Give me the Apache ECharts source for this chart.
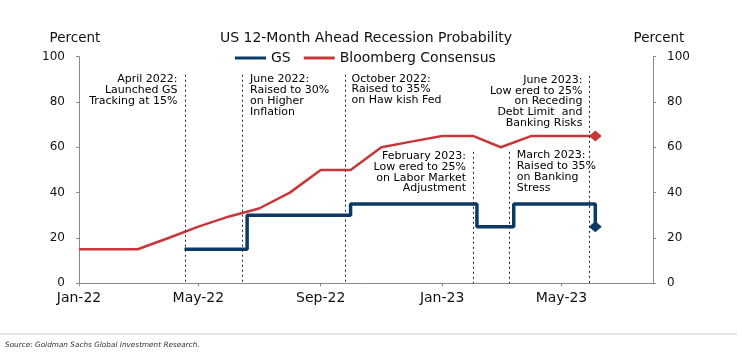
<!DOCTYPE html>
<html>
<head>
<meta charset="utf-8">
<script src="https://cdn.jsdelivr.net/npm/echarts@6/dist/echarts.min.js"></script>
<style>
html,body{margin:0;padding:0;background:#fff;}
#chart{width:742px;height:352px;}
</style>
</head>
<body>
<div id="chart"></div>
<script>
// ---- Data ----
const redDates = ['2022-01-01','2022-02-01','2022-03-01','2022-04-01','2022-05-01','2022-06-01','2022-07-01','2022-08-01','2022-09-01','2022-10-01','2022-11-01','2022-12-01','2023-01-01','2023-02-01','2023-03-01','2023-04-01','2023-05-01','2023-06-04'];
const redValues = [15,15,15,20,25,29.5,33,40,50,50,60,62.5,65,65,60,65,65,65];

const gsDates = ['2022-04-17','2022-06-19','2022-10-01','2023-02-05','2023-03-14','2023-06-04'];
const gsValues = [15,30,35,25,35,25];

const tickDates = ['2022-01-01','2022-05-01','2022-09-01','2023-01-01','2023-05-01'];
const tickLabels = ['Jan-22','May-22','Sep-22','Jan-23','May-23'];
const yTicks = [0,20,40,60,80,100];

const eventDates = ['2022-04-18','2022-06-14','2022-09-26','2023-02-01','2023-03-09','2023-05-29'];
const eventTops = [92, 92, 92, 58, 58, 91.5];

const noteDates = ['2022-04-10','2022-06-22','2022-10-02','2023-01-25','2023-03-17','2023-05-22'];
const noteTops = [92.34, 92.34, 92.65, 58.5, 58.8, 92.1];
const noteAlign = ['right','left','left','right','left','right'];
const noteTexts = [
  'April 2022:\nLaunched GS\nTracking at 15%',
  'June 2022:\nRaised to 30%\non Higher\nInflation',
  'October 2022:\nRaised to 35%\non Haw kish Fed',
  'February 2023:\nLow ered to 25%\non Labor Market\nAdjustment',
  'March 2023:\nRaised to 35%\non Banking\nStress',
  'June 2023:\nLow ered to 25%\non Receding\nDebt Limit  and\nBanking Risks'
];

const axisMin = '2022-01-01';
const axisMax = '2023-08-01';

// ---- Helpers ----
function ts(s){ const p = s.split('-').map(Number); return Date.UTC(p[0], p[1]-1, p[2]); }

const FONT = 'DejaVu Sans';
const RED = '#C8373A';
const BLUE = '#0B3A66';
const AXIS = '#8a8a8a';
const TXT = '#111111';

const tickTs = tickDates.map(ts);
const redData = redDates.map((d,i)=>[ts(d), redValues[i]]);
const gsData = gsDates.map((d,i)=>[ts(d), gsValues[i]]);

const chart = echarts.init(document.getElementById('chart'), null, {renderer:'canvas'});

const yAxisBase = {
  type:'value', min:0, max:100, interval:20,
  axisLine:{show:true, lineStyle:{color:AXIS, width:1}},
  axisTick:{show:true, length:3, lineStyle:{color:AXIS}},
  axisLabel:{color:TXT, fontSize:12, fontFamily:FONT, margin:14},
  splitLine:{show:false}
};

const lastIdx = (arr)=>arr.length-1;

const option = {
  animation:false,
  grid:{left:79, right:89, top:56.6, bottom:68.7, containLabel:false},
  legend:{
    left:230, top:46,
    itemWidth:31, itemHeight:3, itemGap:13,
    icon:'rect',
    textStyle:{color:TXT, fontSize:14, fontFamily:FONT},
    data:['GS','Bloomberg Consensus']
  },
  xAxis:{
    type:'value', min:ts(axisMin), max:ts(axisMax),
    axisLine:{show:true, onZero:false, lineStyle:{color:AXIS, width:1}},
    axisTick:{show:true, length:3, lineStyle:{color:AXIS}, customValues:tickTs},
    axisLabel:{color:TXT, fontSize:14, fontFamily:FONT, margin:8, customValues:tickTs,
      formatter:function(v){ const i = tickTs.indexOf(v); return i>=0 ? tickLabels[i] : ''; }},
    splitLine:{show:false}
  },
  yAxis:[
    Object.assign({}, yAxisBase, {position:'left'}),
    Object.assign({}, yAxisBase, {position:'right'})
  ],
  series:[
    {
      name:'Bloomberg Consensus', type:'line', data:redData,
      color:RED,
      lineStyle:{color:RED, width:2.5},
      itemStyle:{color:RED},
      symbol:'diamond', showAllSymbol:true,
      symbolSize:function(v,p){ return p.dataIndex===lastIdx(redData) ? [13,11] : 0; },
      z:3
    },
    {
      name:'GS', type:'line', step:'end', data:gsData,
      color:BLUE,
      lineStyle:{color:BLUE, width:3.5},
      itemStyle:{color:BLUE},
      symbol:'diamond', showAllSymbol:true,
      symbolSize:function(v,p){ return p.dataIndex===lastIdx(gsData) ? [13,11] : 0; },
      z:4
    },
    {
      name:'notes', type:'scatter', silent:true, symbolSize:1,
      itemStyle:{color:'rgba(255,255,255,0)'},
      data: noteDates.map((d,i)=>({
        value:[ts(d), noteTops[i]],
        label:{show:true, position:'inside', formatter:noteTexts[i], align:noteAlign[i], verticalAlign:'top',
          fontSize:11, lineHeight:10.8, fontFamily:FONT, color:'#000', opacity:1,
          textBorderWidth:0}
      })),
      markLine:{
        silent:true, symbol:['none','none'],
        label:{show:false},
        lineStyle:{color:'#222', width:1, type:[2,3], opacity:1},
        data: eventDates.map((d,i)=>[{coord:[ts(d), eventTops[i]]},{coord:[ts(d), 0]}])
      },
      z:2
    }
  ],
  graphic:[
    {type:'text', style:{x:75, y:38, text:'Percent', fill:TXT, font:'13.5px "DejaVu Sans"', textAlign:'center', textVerticalAlign:'middle'}},
    {type:'text', style:{x:659, y:38, text:'Percent', fill:TXT, font:'13.5px "DejaVu Sans"', textAlign:'center', textVerticalAlign:'middle'}},
    {type:'text', style:{x:366, y:38, text:'US 12-Month Ahead Recession Probability', fill:TXT, font:'14px "DejaVu Sans"', textAlign:'center', textVerticalAlign:'middle'}},
    {type:'line', shape:{x1:0, y1:334, x2:737, y2:334}, style:{stroke:'#dddddd', lineWidth:1.5}},
    {type:'text', style:{x:5, y:345, text:'Source: Goldman Sachs Global Investment Research.', fill:'#333', font:'italic 7.3px "DejaVu Sans"', textAlign:'left', textVerticalAlign:'middle'}}
  ]
};
chart.setOption(option);
</script>
</body>
</html>
